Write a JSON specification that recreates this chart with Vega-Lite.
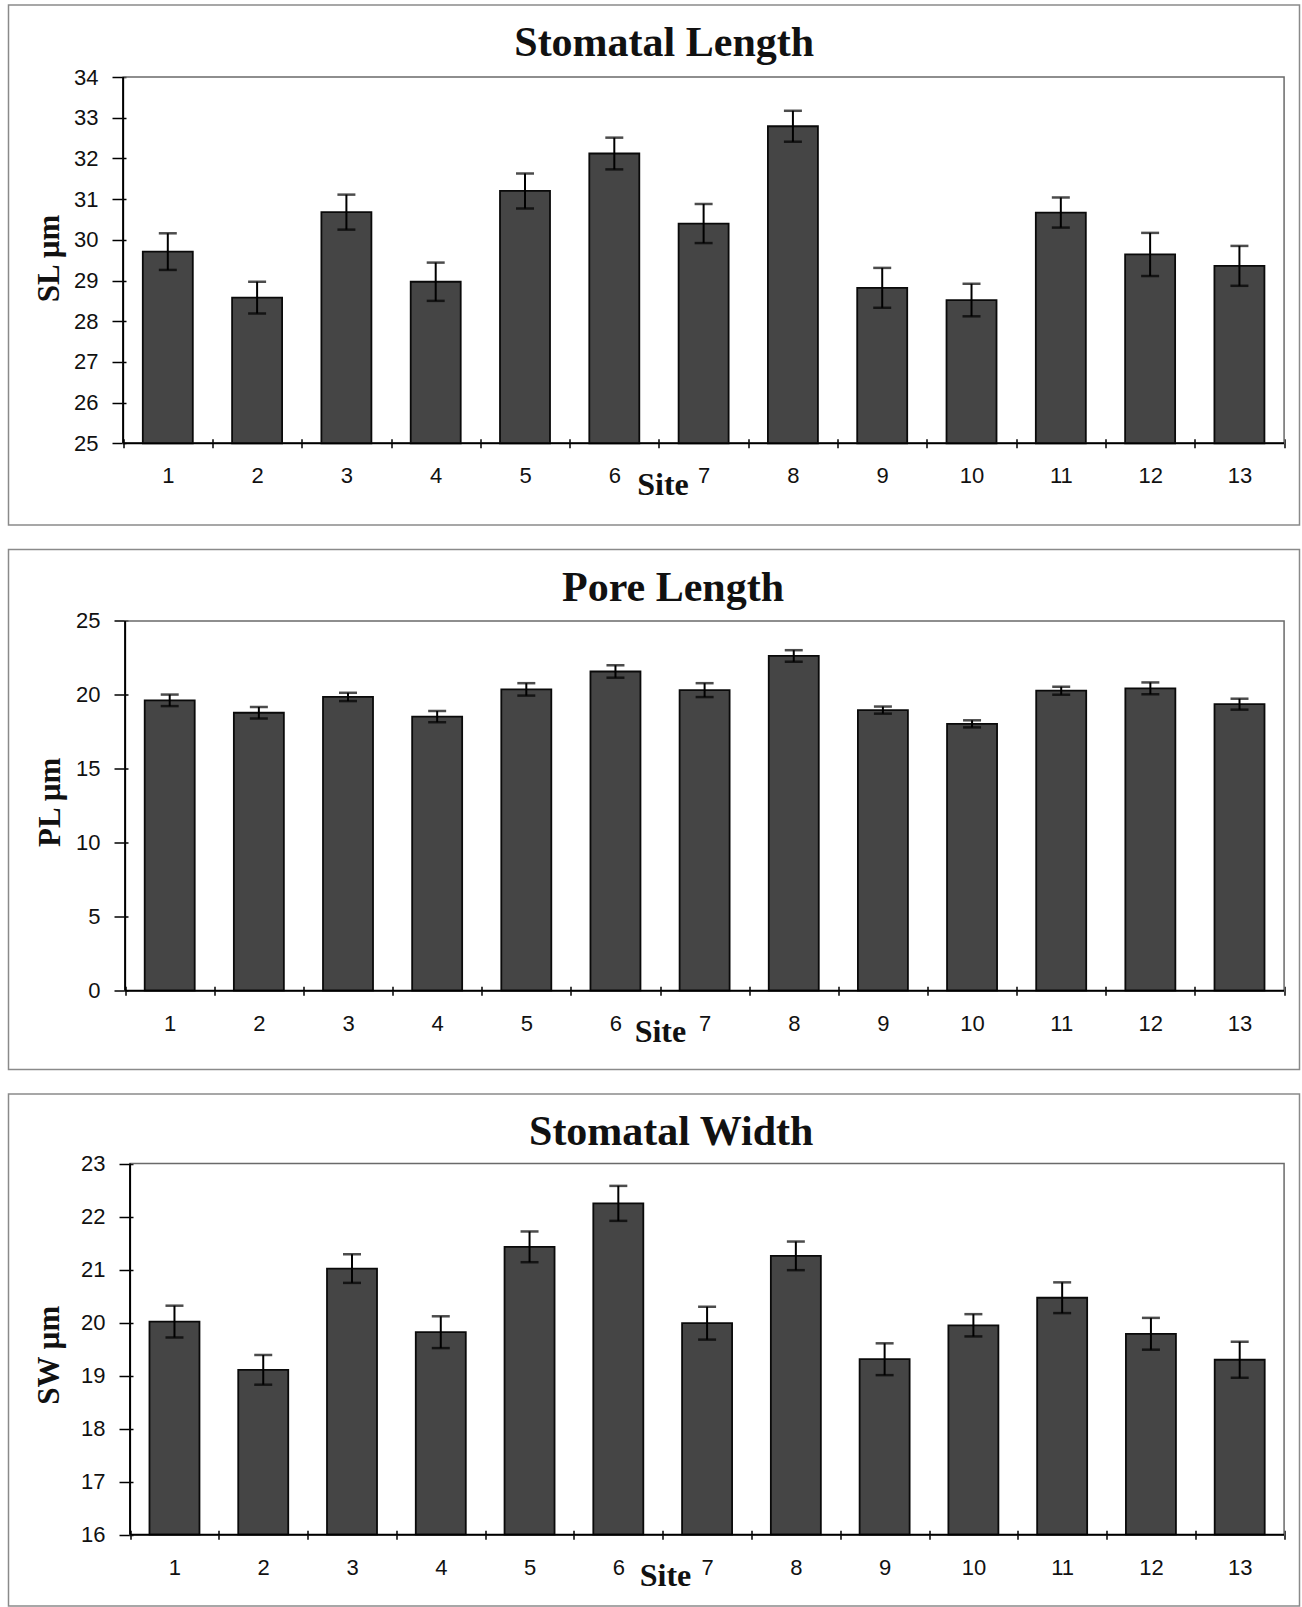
{
  "$schema": "https://vega.github.io/schema/vega-lite/v6.json",
  "padding": {"left": 7.5, "top": 4, "right": 0, "bottom": 0},
  "background": "white",
  "config": {
    "view": {"stroke": "#8a8a8a", "strokeWidth": 1.5},
    "axis": {
      "domain": false, "grid": false,
      "tickColor": "#000", "tickWidth": 1.5,
      "labelFont": "Liberation Sans", "labelFontSize": 22, "labelColor": "#111",
      "labelFlush": false, "labelOverlap": false, "labelBound": false,
      "titleFont": "Liberation Serif", "titleFontWeight": "bold", "titleColor": "#111"
    },
    "title": {"font": "Liberation Serif", "fontWeight": "bold", "fontSize": 42, "color": "#111", "anchor": "middle", "baseline": "alphabetic", "offset": -60}
  },
  "datasets": {
    "sl": [
      {"site": 1, "mean": 29.71, "se": 0.45},
      {"site": 2, "mean": 28.58, "se": 0.39},
      {"site": 3, "mean": 30.68, "se": 0.43},
      {"site": 4, "mean": 28.97, "se": 0.47},
      {"site": 5, "mean": 31.20, "se": 0.43},
      {"site": 6, "mean": 32.12, "se": 0.39},
      {"site": 7, "mean": 30.40, "se": 0.48},
      {"site": 8, "mean": 32.79, "se": 0.38},
      {"site": 9, "mean": 28.82, "se": 0.49},
      {"site": 10, "mean": 28.52, "se": 0.40},
      {"site": 11, "mean": 30.67, "se": 0.37},
      {"site": 12, "mean": 29.64, "se": 0.53},
      {"site": 13, "mean": 29.36, "se": 0.49}
    ],
    "pl": [
      {"site": 1, "mean": 19.63, "se": 0.39},
      {"site": 2, "mean": 18.79, "se": 0.39},
      {"site": 3, "mean": 19.86, "se": 0.28},
      {"site": 4, "mean": 18.53, "se": 0.38},
      {"site": 5, "mean": 20.37, "se": 0.42},
      {"site": 6, "mean": 21.58, "se": 0.42},
      {"site": 7, "mean": 20.32, "se": 0.47},
      {"site": 8, "mean": 22.63, "se": 0.39},
      {"site": 9, "mean": 18.97, "se": 0.24},
      {"site": 10, "mean": 18.04, "se": 0.24},
      {"site": 11, "mean": 20.28, "se": 0.27},
      {"site": 12, "mean": 20.44, "se": 0.40},
      {"site": 13, "mean": 19.37, "se": 0.37}
    ],
    "sw": [
      {"site": 1, "mean": 20.02, "se": 0.30},
      {"site": 2, "mean": 19.11, "se": 0.28},
      {"site": 3, "mean": 21.02, "se": 0.27},
      {"site": 4, "mean": 19.82, "se": 0.30},
      {"site": 5, "mean": 21.43, "se": 0.29},
      {"site": 6, "mean": 22.25, "se": 0.33},
      {"site": 7, "mean": 19.99, "se": 0.31},
      {"site": 8, "mean": 21.26, "se": 0.27},
      {"site": 9, "mean": 19.31, "se": 0.30},
      {"site": 10, "mean": 19.95, "se": 0.21},
      {"site": 11, "mean": 20.47, "se": 0.29},
      {"site": 12, "mean": 19.79, "se": 0.30},
      {"site": 13, "mean": 19.30, "se": 0.34}
    ]
  },
  "spacing": 24.5,
  "bounds": "flush",
  "vconcat": [
    {
      "width": 1291, "height": 520,
      "title": {"text": "Stomatal Length", "dx": 10.2},
      "resolve": {"axis": {"x": "independent", "y": "independent"}},
      "layer": [
        {
          "data": {"name": "sl"},
          "mark": {"type": "bar", "width": 50, "fill": "#454545", "stroke": "#0a0a0a", "strokeWidth": 1.8},
          "encoding": {
            "x": {"field": "site", "type": "quantitative", "scale": {"domain": [-0.7278, 13.6167], "nice": false, "zero": false},
              "axis": {"orient": "bottom", "offset": -86.2, "values": [0.5,1,1.5,2,2.5,3,3.5,4,4.5,5,5.5,6,6.5,7,7.5,8,8.5,9,9.5,10,10.5,11,11.5,12,12.5,13,13.5],
                "tickSize": 9, "tickOpacity": {"condition": {"test": "datum.value % 1 === 0", "value": 0}, "value": 1},
                "labelExpr": "datum.value % 1 === 0 ? '' + datum.value : ''", "labelPadding": 18,
                "title": "Site", "titleFontSize": 32, "titleX": 654, "titleY": 55.5, "titleAlign": "center", "titleBaseline": "alphabetic"}},
            "y": {"field": "mean", "type": "quantitative", "scale": {"domain": [22.993, 35.769], "nice": false, "zero": false},
              "axis": {"orient": "left", "offset": -117.5, "values": [25,26,27,28,29,30,31,32,33,34], "tickSize": 14, "labelPadding": 14,
                "title": "SL µm", "titleFontSize": 31, "titleX": -68, "titleY": 253, "titleAngle": -90, "titleAlign": "center", "titleBaseline": "alphabetic"}},
            "y2": {"datum": 25}
          }
        },
        {
          "data": {"values": [{"f": 1}]},
          "mark": {"type": "rect", "filled": false, "stroke": "#6a6a6a", "strokeWidth": 1.5},
          "encoding": {
            "x": {"datum": 0.5, "type": "quantitative", "axis": null},
            "x2": {"datum": 13.5},
            "y": {"datum": 34, "type": "quantitative", "axis": null},
            "y2": {"datum": 25}
          }
        },
        {
          "data": {"name": "sl"},
          "mark": {"type": "errorbar", "color": "#000", "ticks": {"size": 18, "thickness": 2.5, "color": "#000"}, "rule": {"strokeWidth": 2, "color": "#000"}},
          "encoding": {
            "x": {"field": "site", "type": "quantitative", "axis": null},
            "y": {"field": "mean", "type": "quantitative", "axis": null},
            "yError": {"field": "se"}
          }
        },
        {
          "data": {"values": [{"f": 1}]},
          "mark": {"type": "rule", "color": "#000", "strokeWidth": 2},
          "encoding": {
            "x": {"datum": 0.5, "type": "quantitative", "axis": null},
            "y": {"datum": 25, "type": "quantitative", "axis": null},
            "y2": {"datum": 34}
          }
        },
        {
          "data": {"values": [{"f": 1}]},
          "mark": {"type": "rule", "color": "#000", "strokeWidth": 2},
          "encoding": {
            "x": {"datum": 0.5, "type": "quantitative", "axis": null},
            "x2": {"datum": 13.5},
            "y": {"datum": 25, "type": "quantitative", "axis": null}
          }
        }
      ]
    },
    {
      "width": 1291, "height": 520,
      "title": {"text": "Pore Length", "dx": 19},
      "resolve": {"axis": {"x": "independent", "y": "independent"}},
      "layer": [
        {
          "data": {"name": "pl"},
          "mark": {"type": "bar", "width": 50, "fill": "#454545", "stroke": "#0a0a0a", "strokeWidth": 1.8},
          "encoding": {
            "x": {"field": "site", "type": "quantitative", "scale": {"domain": [-0.7522, 13.6169], "nice": false, "zero": false},
              "axis": {"orient": "bottom", "offset": -83.3, "values": [0.5,1,1.5,2,2.5,3,3.5,4,4.5,5,5.5,6,6.5,7,7.5,8,8.5,9,9.5,10,10.5,11,11.5,12,12.5,13,13.5],
                "tickSize": 9, "tickOpacity": {"condition": {"test": "datum.value % 1 === 0", "value": 0}, "value": 1},
                "labelExpr": "datum.value % 1 === 0 ? '' + datum.value : ''", "labelPadding": 18,
                "title": "Site", "titleFontSize": 32, "titleX": 651.4, "titleY": 55.5, "titleAlign": "center", "titleBaseline": "alphabetic"}},
            "y": {"field": "mean", "type": "quantitative", "scale": {"domain": [-5.327, 29.827], "nice": false, "zero": false},
              "axis": {"orient": "left", "offset": -119.5, "values": [0,5,10,15,20,25], "tickSize": 14, "labelPadding": 14,
                "title": "PL µm", "titleFontSize": 31, "titleX": -69, "titleY": 252.3, "titleAngle": -90, "titleAlign": "center", "titleBaseline": "alphabetic"}},
            "y2": {"datum": 0}
          }
        },
        {
          "data": {"values": [{"f": 1}]},
          "mark": {"type": "rect", "filled": false, "stroke": "#6a6a6a", "strokeWidth": 1.5},
          "encoding": {
            "x": {"datum": 0.5, "type": "quantitative", "axis": null},
            "x2": {"datum": 13.5},
            "y": {"datum": 25, "type": "quantitative", "axis": null},
            "y2": {"datum": 0}
          }
        },
        {
          "data": {"name": "pl"},
          "mark": {"type": "errorbar", "color": "#000", "ticks": {"size": 18, "thickness": 2.5, "color": "#000"}, "rule": {"strokeWidth": 2, "color": "#000"}},
          "encoding": {
            "x": {"field": "site", "type": "quantitative", "axis": null},
            "y": {"field": "mean", "type": "quantitative", "axis": null},
            "yError": {"field": "se"}
          }
        },
        {
          "data": {"values": [{"f": 1}]},
          "mark": {"type": "rule", "color": "#000", "strokeWidth": 2},
          "encoding": {
            "x": {"datum": 0.5, "type": "quantitative", "axis": null},
            "y": {"datum": 0, "type": "quantitative", "axis": null},
            "y2": {"datum": 25}
          }
        },
        {
          "data": {"values": [{"f": 1}]},
          "mark": {"type": "rule", "color": "#000", "strokeWidth": 2},
          "encoding": {
            "x": {"datum": 0.5, "type": "quantitative", "axis": null},
            "x2": {"datum": 13.5},
            "y": {"datum": 0, "type": "quantitative", "axis": null}
          }
        }
      ]
    },
    {
      "width": 1291, "height": 512,
      "title": {"text": "Stomatal Width", "dx": 17.2},
      "resolve": {"axis": {"x": "independent", "y": "independent"}},
      "layer": [
        {
          "data": {"name": "sw"},
          "mark": {"type": "bar", "width": 50, "fill": "#454545", "stroke": "#0a0a0a", "strokeWidth": 1.8},
          "encoding": {
            "x": {"field": "site", "type": "quantitative", "scale": {"domain": [-0.8134, 13.6174], "nice": false, "zero": false},
              "axis": {"orient": "bottom", "offset": -75.8, "values": [0.5,1,1.5,2,2.5,3,3.5,4,4.5,5,5.5,6,6.5,7,7.5,8,8.5,9,9.5,10,10.5,11,11.5,12,12.5,13,13.5],
                "tickSize": 9, "tickOpacity": {"condition": {"test": "datum.value % 1 === 0", "value": 0}, "value": 1},
                "labelExpr": "datum.value % 1 === 0 ? '' + datum.value : ''", "labelPadding": 18,
                "title": "Site", "titleFontSize": 32, "titleX": 656.5, "titleY": 55.5, "titleAlign": "center", "titleBaseline": "alphabetic"}},
            "y": {"field": "mean", "type": "quantitative", "scale": {"domain": [14.655, 24.313], "nice": false, "zero": false},
              "axis": {"orient": "left", "offset": -124.5, "values": [16,17,18,19,20,21,22,23], "tickSize": 14, "labelPadding": 14,
                "title": "SW µm", "titleFontSize": 31, "titleX": -75, "titleY": 260.8, "titleAngle": -90, "titleAlign": "center", "titleBaseline": "alphabetic"}},
            "y2": {"datum": 16}
          }
        },
        {
          "data": {"values": [{"f": 1}]},
          "mark": {"type": "rect", "filled": false, "stroke": "#6a6a6a", "strokeWidth": 1.5},
          "encoding": {
            "x": {"datum": 0.5, "type": "quantitative", "axis": null},
            "x2": {"datum": 13.5},
            "y": {"datum": 23, "type": "quantitative", "axis": null},
            "y2": {"datum": 16}
          }
        },
        {
          "data": {"name": "sw"},
          "mark": {"type": "errorbar", "color": "#000", "ticks": {"size": 18, "thickness": 2.5, "color": "#000"}, "rule": {"strokeWidth": 2, "color": "#000"}},
          "encoding": {
            "x": {"field": "site", "type": "quantitative", "axis": null},
            "y": {"field": "mean", "type": "quantitative", "axis": null},
            "yError": {"field": "se"}
          }
        },
        {
          "data": {"values": [{"f": 1}]},
          "mark": {"type": "rule", "color": "#000", "strokeWidth": 2},
          "encoding": {
            "x": {"datum": 0.5, "type": "quantitative", "axis": null},
            "y": {"datum": 16, "type": "quantitative", "axis": null},
            "y2": {"datum": 23}
          }
        },
        {
          "data": {"values": [{"f": 1}]},
          "mark": {"type": "rule", "color": "#000", "strokeWidth": 2},
          "encoding": {
            "x": {"datum": 0.5, "type": "quantitative", "axis": null},
            "x2": {"datum": 13.5},
            "y": {"datum": 16, "type": "quantitative", "axis": null}
          }
        }
      ]
    }
  ]
}
